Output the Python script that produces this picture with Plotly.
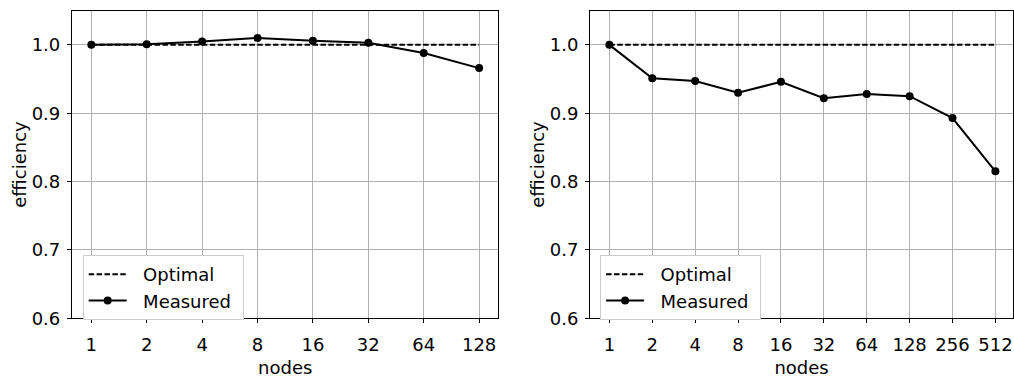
import plotly.graph_objects as go

# ---- data ----
nodes_left = ["1", "2", "4", "8", "16", "32", "64", "128"]
measured_left = [1.000, 1.001, 1.005, 1.010, 1.006, 1.003, 0.988, 0.966]
optimal_left = [1.0] * len(nodes_left)

nodes_right = ["1", "2", "4", "8", "16", "32", "64", "128", "256", "512"]
measured_right = [1.000, 0.951, 0.947, 0.930, 0.946, 0.922, 0.928, 0.925, 0.893, 0.815]
optimal_right = [1.0] * len(nodes_right)

y_ticks = [0.6, 0.7, 0.8, 0.9, 1.0]
series_names = ["Optimal", "Measured"]

FONT = "DejaVu Sans"
FS = 18
NB = "\u00a0"
fig = go.Figure()

def add_pair(x, opt, meas, xa, ya, leg):
    fig.add_trace(go.Scatter(x=x, y=opt, mode="lines", name=NB * 2 + series_names[0] + NB,
                             line=dict(color="black", width=2, dash="5.5px,2.4px"),
                             xaxis=xa, yaxis=ya, legend=leg))
    fig.add_trace(go.Scatter(x=x, y=meas, mode="lines+markers", name=NB * 2 + series_names[1] + NB,
                             line=dict(color="black", width=2),
                             marker=dict(color="black", size=8),
                             xaxis=xa, yaxis=ya, legend=leg))

add_pair(nodes_left, optimal_left, measured_left, "x", "y", "legend")
add_pair(nodes_right, optimal_right, measured_right, "x2", "y2", "legend2")

axis_common = dict(showline=True, linecolor="black", linewidth=1, mirror=True,
                   showgrid=True, gridcolor="#b0b0b0", gridwidth=1,
                   ticks="outside", ticklen=4, tickcolor="black",
                   tickfont=dict(family=FONT, size=FS, color="black"),
                   zeroline=False)

def xaxis_cfg(domain, rng, anchor):
    return dict(domain=domain, type="category", range=rng, anchor=anchor,
                ticklabelstandoff=6,
                title=dict(text="nodes", font=dict(family=FONT, size=FS), standoff=7),
                **axis_common)

def yaxis_cfg(anchor):
    return dict(domain=[0.1349, 0.971], range=[0.6, 1.05], tickvals=y_ticks,
                tickformat=".1f", anchor=anchor, ticklabelstandoff=3,
                title=dict(text="efficiency", font=dict(family=FONT, size=FS), standoff=0),
                **axis_common)

def legend_cfg(x):
    return dict(x=x, y=0.307, xanchor="left", yanchor="top",
                bgcolor="white", bordercolor="#cccccc", borderwidth=1,
                itemwidth=38,
                font=dict(family=FONT, size=FS, color="black"))

fig.update_layout(
    width=1014, height=378,
    margin=dict(l=0, r=0, t=0, b=0),
    paper_bgcolor="white", plot_bgcolor="white",
    font=dict(family=FONT, size=FS, color="black"),
    showlegend=True,
    xaxis=xaxis_cfg([0.0710, 0.4921], [-0.35, 7.35], "y"),
    yaxis=yaxis_cfg("x"),
    xaxis2=xaxis_cfg([0.5825, 1.0], [-0.45, 9.41], "y2"),
    yaxis2=yaxis_cfg("x2"),
    legend=legend_cfg(0.0816),
    legend2=legend_cfg(0.5924),
)

fig.write_html("out.html")
